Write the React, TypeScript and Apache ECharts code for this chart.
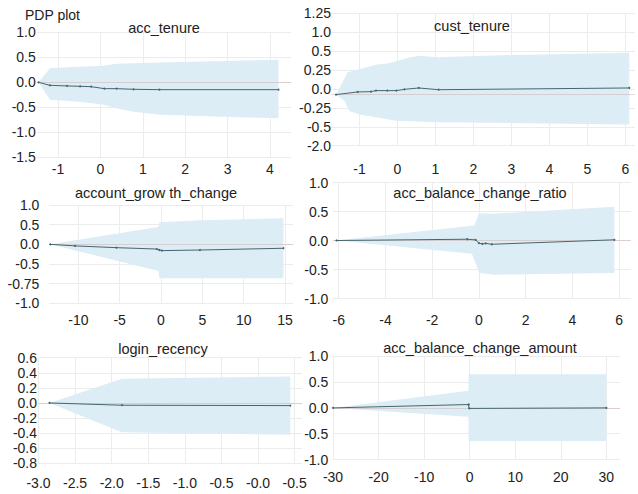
import React, { useEffect, useRef } from 'react';
import * as echarts from 'echarts';

type Pt = [number, number];

// ---------- data ----------
const mainTitle = 'PDP plot';
const panelTitles = ['acc_tenure', 'cust_tenure', 'account_grow th_change', 'acc_balance_change_ratio', 'login_recency', 'acc_balance_change_amount'];

// acc_tenure
const accTenureLine: Pt[] = [[-1.46, 0], [-1.19, -0.06], [-0.79, -0.073], [-0.48, -0.08], [-0.22, -0.087], [0.09, -0.127], [0.38, -0.127], [0.78, -0.14], [1.39, -0.147], [4.2, -0.147]];
const accTenureUpper: Pt[] = [[-1.46, 0], [-1.19, 0.28], [-0.48, 0.31], [0.07, 0.33], [0.38, 0.37], [1.17, 0.39], [4.2, 0.45]];
const accTenureLower: Pt[] = [[-1.46, 0], [-1.19, -0.35], [-0.48, -0.39], [0.07, -0.45], [0.38, -0.52], [0.78, -0.59], [1.41, -0.65], [4.2, -0.72]];

// cust_tenure
const custTenureLine: Pt[] = [[-1.62, -0.075], [-1.05, -0.04], [-0.7, -0.036], [-0.57, -0.022], [-0.27, -0.022], [-0.03, -0.022], [0.18, -0.005], [0.56, 0.013], [1.08, -0.01], [6.1, 0.013]];
const custTenureUpper: Pt[] = [[-1.62, -0.075], [-1.31, 0.22], [-0.79, 0.29], [-0.57, 0.32], [-0.22, 0.34], [0, 0.37], [0.25, 0.41], [0.56, 0.44], [1.04, 0.42], [3.13, 0.45], [6.1, 0.48]];
const custTenureLower: Pt[] = [[-1.62, -0.075], [-1.4, -0.155], [-1.27, -0.29], [-0.97, -0.34], [-0.57, -0.375], [-0.03, -0.42], [0.51, -0.43], [1.08, -0.44], [6.1, -0.47]];

// account_growth_change
const growthLine: Pt[] = [[-13.4, 0], [-10.4, -0.04], [-5.4, -0.085], [-0.5, -0.12], [-0.2, -0.145], [0.1, -0.16], [4.7, -0.145], [14.8, -0.1]];
const growthUpper: Pt[] = [[-13.4, 0], [-0.3, 0.44], [-0.2, 0.56], [5, 0.61], [14.8, 0.66]];
const growthLower: Pt[] = [[-13.4, 0], [-0.3, -0.68], [-0.2, -0.865], [14.8, -0.865]];

// acc_balance_change_ratio
const ratioLine: Pt[] = [[-6.1, 0], [-0.5, 0.022], [-0.14, 0.01], [0, -0.045], [0.15, -0.06], [0.29, -0.05], [0.55, -0.065], [5.8, 0.012]];
const ratioUpper: Pt[] = [[-6.1, 0], [-0.2, 0.26], [-0.1, 0.35], [0, 0.47], [0.6, 0.46], [5.8, 0.58]];
const ratioLower: Pt[] = [[-6.1, 0], [-0.3, -0.23], [-0.07, -0.46], [0, -0.56], [0.7, -0.59], [5.8, -0.56]];

// login_recency
const loginLine: Pt[] = [[-2.85, 0], [-1.86, -0.03], [0.44, -0.035]];
const loginUpper: Pt[] = [[-2.85, 0], [-1.86, 0.32], [0.44, 0.35]];
const loginLower: Pt[] = [[-2.85, 0], [-1.86, -0.39], [0.44, -0.42]];

// acc_balance_change_amount
const amountLine: Pt[] = [[-30, 0], [-0.3, 0.065], [-0.2, 0.065], [-0.1, -0.01], [30, 0]];
const amountUpper: Pt[] = [[-30, 0], [-0.3, 0.33], [-0.2, 0.65], [30, 0.65]];
const amountLower: Pt[] = [[-30, 0], [-0.3, -0.17], [-0.2, -0.64], [30, -0.64]];

// reference (dotted) levels
const refLevels = [0, -0.066, 0, 0, 0, 0];

// tick values and labels
const xTickValues = [
  [-1, 0, 1, 2, 3, 4],
  [-1, 0, 1, 2, 3, 4, 5, 6],
  [-10, -5, 0, 5, 10, 15],
  [-6, -4, -2, 0, 2, 4, 6],
  [-3, -2.5, -2, -1.5, -1, -0.5, 0, 0.5],
  [-30, -20, -10, 0, 10, 20, 30],
];
const xTickLabels = [
  ['-1', '0', '1', '2', '3', '4'],
  ['-1', '0', '1', '2', '3', '4', '5', '6'],
  ['-10', '-5', '0', '5', '10', '15'],
  ['-6', '-4', '-2', '0', '2', '4', '6'],
  ['-3.0', '-2.5', '-2.0', '-1.5', '-1.0', '-0.5', '-0.0', '-0.5'],
  ['-30', '-20', '-10', '0', '10', '20', '30'],
];
const yTickValues = [
  [1, 0.5, 0, -0.5, -1, -1.5],
  [1, 0.75, 0.5, 0.25, 0, -0.25, -0.5, -0.75],
  [1, 0.5, 0, -0.5, -1, -1.5],
  [1, 0.5, 0, -0.5, -1],
  [0.6, 0.4, 0.2, 0, -0.2, -0.4, -0.6, -0.8],
  [1, 0.5, 0, -0.5, -1],
];
const yTickLabels = [
  ['1.0', '0.5', '0.0', '-0.5', '-1.0', '-1.5'],
  ['1.25', '1.0', '0.5', '0.25', '0.0', '-0.25', '-0.5', '-2.0'],
  ['1.0', '0.5', '0.0', '-0.5', '-0.75', '-1.0'],
  ['1.0', '0.5', '0.0', '-0.5', '-1.0'],
  ['0.6', '0.4', '0.2', '0.0', '-0.2', '-0.4', '-0.6', '-0.8'],
  ['1.0', '0.5', '0.0', '-0.5', '-1.0'],
];

const lines = [accTenureLine, custTenureLine, growthLine, ratioLine, loginLine, amountLine];
const uppers = [accTenureUpper, custTenureUpper, growthUpper, ratioUpper, loginUpper, amountUpper];
const lowers = [accTenureLower, custTenureLower, growthLower, ratioLower, loginLower, amountLower];

// ---------- layout ----------
const layout = [
  { left: 36.8, top: 32.3, width: 254.4, height: 125, xMin: -1.5, xMax: 4.5, xInt: 0.5, yMin: -1.5, yMax: 1, yInt: 0.5, yMargin: 1, xMargin: 5, title: [164, 28] },
  { left: 331, top: 13.3, width: 306.6, height: 132.4, xMin: -1.75, xMax: 6.25, xInt: 0.25, yMin: -0.75, yMax: 1, yInt: 0.25, yMargin: 0, xMargin: 16, title: [472, 26] },
  { left: 49.4, top: 205, width: 243.9, height: 98.3, xMin: -13.5, xMax: 16, xInt: 0.5, yMin: -1.5, yMax: 1, yInt: 0.5, yMargin: 10, xMargin: 10, title: [156, 193] },
  { left: 332.9, top: 182.5, width: 297.8, height: 116, xMin: -6.25, xMax: 6.5, xInt: 0.25, yMin: -1, yMax: 1, yInt: 0.5, yMargin: 4.5, xMargin: 14, title: [480, 193] },
  { left: 38.5, top: 357.7, width: 263.5, height: 105.6, xMin: -3, xMax: 0.6, xInt: 0.5, yMin: -0.8, yMax: 0.6, yInt: 0.2, yMargin: 1.5, xMargin: 13, title: [163, 349] },
  { left: 333, top: 356.3, width: 287, height: 103.2, xMin: -30, xMax: 33, xInt: 1, yMin: -1, yMax: 1, yInt: 0.5, yMargin: 4.7, xMargin: 10, title: [480, 348] },
];

const FONT = '"Liberation Sans", Arial, sans-serif';
const TEXT = '#222';
const GRID = '#ececec';
const BAND = '#dcedf5';
const LINE = '#46666f';
const REF = 'rgba(205,170,170,0.45)';

const fmt = (vals: number[], labels: string[]) => (v: number) => {
  const i = vals.findIndex((t) => Math.abs(t - v) < 1e-6);
  return i >= 0 ? labels[i] : '';
};

function buildOption() {
  const grid: any[] = [];
  const xAxis: any[] = [];
  const yAxis: any[] = [];
  const series: any[] = [];
  const graphic: any[] = [];

  layout.forEach((L, i) => {
    grid.push({ left: L.left, top: L.top, width: L.width, height: L.height, containLabel: false });
    xAxis.push({
      type: 'value', gridIndex: i, min: L.xMin, max: L.xMax, interval: L.xInt,
      axisLine: { show: false }, axisTick: { show: false }, splitLine: { show: false },
      axisLabel: { formatter: fmt(xTickValues[i], xTickLabels[i]), margin: L.xMargin, fontSize: 14, fontFamily: FONT, color: TEXT, showMinLabel: true, showMaxLabel: true },
    });
    yAxis.push({
      type: 'value', gridIndex: i, min: L.yMin, max: L.yMax, interval: L.yInt,
      axisLine: { show: false }, axisTick: { show: false },
      splitLine: { show: true, lineStyle: { color: GRID, width: 1 } },
      axisLabel: { formatter: fmt(yTickValues[i], yTickLabels[i]), margin: L.yMargin, align: 'right', fontSize: 14, fontFamily: FONT, color: TEXT },
    });
    // vertical grid lines at the labelled x values
    series.push({
      type: 'line', xAxisIndex: i, yAxisIndex: i, data: [], silent: true, z: 1,
      markLine: {
        silent: true, z: 1, symbol: ['none', 'none'], label: { show: false },
        lineStyle: { color: GRID, type: 'solid', width: 1 },
        data: xTickValues[i].map((v) => ({ xAxis: v })),
      },
    });
    // confidence band
    const up = uppers[i];
    const lo = lowers[i];
    series.push({
      type: 'custom', xAxisIndex: i, yAxisIndex: i, z: 2, silent: true, clip: true,
      data: [up[0]],
      renderItem: (_p: any, api: any) => {
        const pts = up.map((p) => api.coord(p)).concat(lo.slice().reverse().map((p) => api.coord(p)));
        return { type: 'polygon', shape: { points: pts }, style: { fill: BAND } };
      },
    });
    // PDP line
    series.push({
      type: 'line', xAxisIndex: i, yAxisIndex: i, data: lines[i], z: 4,
      symbol: 'circle', symbolSize: 2, showSymbol: true,
      lineStyle: { color: LINE, width: 1 }, itemStyle: { color: LINE },
      markLine: {
        silent: true, z: 3, symbol: ['none', 'none'], label: { show: false },
        lineStyle: { color: REF, type: 'solid', width: 1.2 },
        data: [{ yAxis: refLevels[i] }],
      },
    });
    graphic.push({
      type: 'text', x: L.title[0], y: L.title[1], z: 10,
      style: { text: panelTitles[i], font: `14.5px ${FONT}`, fill: TEXT, align: 'center', verticalAlign: 'middle', textAlign: 'center', textVerticalAlign: 'middle' },
    });
  });

  graphic.push({
    type: 'text', x: 25, y: 15, z: 10,
    style: { text: mainTitle, font: `14px ${FONT}`, fill: TEXT, align: 'left', verticalAlign: 'middle', textAlign: 'left', textVerticalAlign: 'middle' },
  });

  return { animation: false, backgroundColor: '#ffffff', grid, xAxis, yAxis, series, graphic };
}

export default function App() {
  const ref = useRef<HTMLDivElement>(null);
  useEffect(() => {
    if (!ref.current) return;
    const chart = echarts.init(ref.current, undefined, { renderer: 'svg' });
    chart.setOption(buildOption() as any);
    return () => chart.dispose();
  }, []);
  return <div ref={ref} style={{ position: 'fixed', left: 0, top: 0, width: 638, height: 494 }} />;
}
